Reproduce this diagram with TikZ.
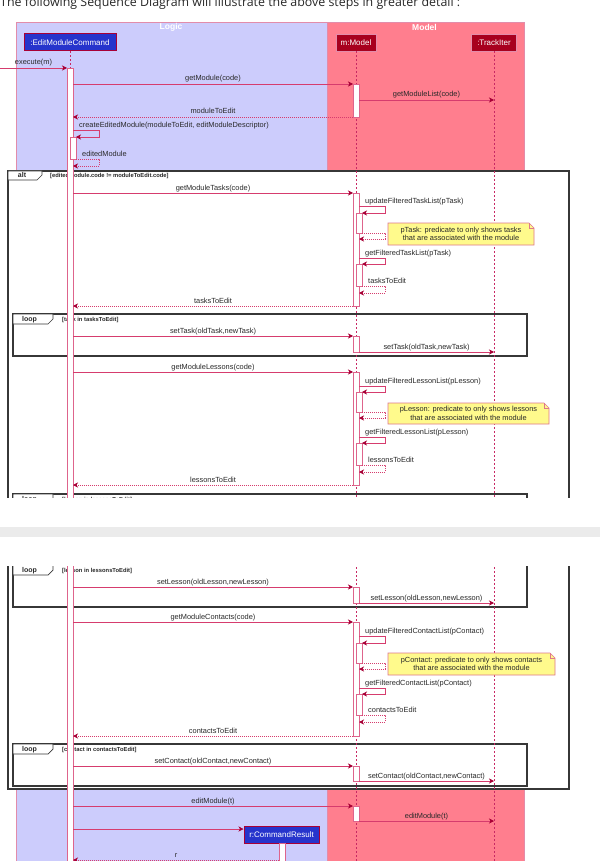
\documentclass[tikz,border=0pt]{standalone}
\usepackage{fontspec}
\setmainfont{Liberation Sans}
\newfontfamily\webfont{Open Sans}
\usetikzlibrary{arrows.meta,calc}
\definecolor{logicbg}{RGB}{204,204,252}
\definecolor{modelbg}{RGB}{255,126,142}
\definecolor{boxline}{RGB}{226,140,170}
\definecolor{linec}{RGB}{214,60,110}
\definecolor{headc}{RGB}{168,0,54}
\definecolor{actc}{RGB}{222,100,140}
\definecolor{lifec}{RGB}{200,40,100}
\definecolor{bluebox}{RGB}{38,52,204}
\definecolor{redbox}{RGB}{168,0,30}
\definecolor{framec}{RGB}{55,55,55}
\definecolor{notebg}{RGB}{255,250,140}
\definecolor{noteline}{RGB}{222,120,140}
\definecolor{textc}{RGB}{40,40,40}
\definecolor{bandc}{RGB}{235,235,235}
\tikzset{
 lbl/.style={font=\fontsize{7.4}{8}\selectfont, text=textc, inner sep=0pt},
 msg/.style={draw=linec, line width=0.6pt, -{Stealth[length=5pt,width=5pt,inset=1.5pt,color=headc]}},
 ret/.style={msg, dash pattern=on 1pt off 1pt},
 actbar/.style={draw=actc, fill=white, line width=0.6pt},
 lifeline/.style={draw=lifec, line width=0.7pt, dash pattern=on 2pt off 2pt},
 frm/.style={draw=framec, line width=1.3pt},
 tabbox/.style={draw=framec, line width=0.7pt, fill=white},
 grd/.style={font=\bfseries\fontsize{5.8}{6}\selectfont, text=textc, inner sep=0pt, anchor=base west},
 tablbl/.style={font=\bfseries\fontsize{7}{8}\selectfont, text=textc, inner sep=0pt, anchor=base},
 partb/.style={draw=headc, line width=1pt, text=white, font=\fontsize{8}{9}\selectfont, inner sep=0pt, minimum height=17pt},
 grouplbl/.style={font=\bfseries\fontsize{8.5}{9}\selectfont, text=white, inner sep=0pt},
 notepath/.style={draw=noteline, fill=notebg, line width=0.6pt},
 notetxt/.style={font=\fontsize{7.4}{8.6}\selectfont, text=textc, align=center, inner sep=0pt}
}
\newcommand\callmsg[5]{%
 \coordinate (#1s) at (#3,#2); \coordinate (#1e) at (#4,#2);
 \draw[msg] (#1s) -- (#1e);
 \node[lbl,anchor=base] (#1l) at ($(#1s)!.5!(#1e)+(0,-3)$) {#5};}
\newcommand\retmsg[5]{%
 \coordinate (#1s) at (#3,#2); \coordinate (#1e) at (#4,#2);
 \draw[ret] (#1s) -- (#1e);
 \node[lbl,anchor=base] (#1l) at ($(#1s)!.5!(#1e)+(0,-3)$) {#5};}
\newcommand\selfcall[7]{%
 \coordinate (#1a) at (#2,#5); \coordinate (#1b) at (#3,#5);
 \coordinate (#1c) at (#3,#6); \coordinate (#1d) at (#4,#6);
 \draw[msg] (#1a) -- (#1b) -- (#1c) -- (#1d);
 \node[lbl,anchor=base west] (#1l) at ($(#1a)+(6,-2.5)$) {#7};}
\newcommand\selfret[7]{%
 \coordinate (#1a) at (#2,#5); \coordinate (#1b) at (#3,#5);
 \coordinate (#1c) at (#3,#6); \coordinate (#1d) at (#4,#6);
 \draw[ret] (#1a) -- (#1b) -- (#1c) -- (#1d);
 \node[lbl,anchor=base west] (#1l) at ($(#1a)+(6,-2.5)$) {#7};}
\newcommand\looptab[3]{% name, top y, guard
 \draw[tabbox] (13,#2) -- (53,#2) -- (53,#2+5) -- (48,#2+10) -- (13,#2+10) -- cycle;
 \node[tablbl] (#1t) at (29.5,#2+7.5) {loop};
 \node[grd] (#1g) at (62,#2+7.3) {#3};}
\newcommand\notebox[6]{% name, x1, x2, y1, y2, text
 \draw[notepath] (#2,#4) -- (#3-5,#4) -- (#3,#4+5) -- (#3,#5) -- (#2,#5) -- cycle;
 \draw[draw=noteline, line width=0.6pt] (#3-5,#4) -- (#3-5,#4+5) -- (#3,#4+5);
 \node[notetxt] (#1) at ({(#2+#3)/2},{(#4+#5)/2}) {#6};}
\begin{document}
\begin{tikzpicture}[x=1pt,y=-1pt]
\clip (0,0) rectangle (600,861);
\fill[white] (0,0) rectangle (600,861);
\node[anchor=base west, inner sep=0pt, font=\webfont\fontsize{12.4}{14}\selectfont, text=textc] (intro) at (0,6.5) {The following Sequence Diagram will illustrate the above steps in greater detail :};
% groups
\draw[fill=logicbg, draw=boxline, line width=0.8pt] (16,22) rectangle (327,900);
\draw[fill=modelbg, draw=boxline, line width=0.8pt] (327,22) rectangle (524,900);
\node[grouplbl] (logic) at (171,27.5) {Logic};
\node[grouplbl] (model) at (424.5,27.5) {Model};
% participants
\node[partb, fill=bluebox, minimum width=92pt] (emc) at (70,42.5) {:EditModuleCommand};
\node[partb, fill=redbox, draw=boxline, line width=0.7pt, minimum width=40pt] (mm) at (356,42.5) {m:Model};
\node[partb, fill=redbox, draw=boxline, line width=0.7pt, minimum width=45pt] (ti) at (494,42.5) {:TrackIter};
% alt frame
\draw[frm, fill=white] (8,171) rectangle (569,789);
\draw[tabbox] (8,171) -- (42,171) -- (42,175) -- (37,180) -- (8,180) -- cycle;
\node[tablbl] (altt) at (22,177.5) {alt};
\node[grd] (altg) at (50,177.3) {[editedModule.code != moduleToEdit.code]};
% loop frames
\draw[frm] (13,314) rectangle (527,356);
\looptab{lpa}{314}{[task in tasksToEdit]}
\draw[frm] (13,494) rectangle (527,607);
\looptab{lpb}{494}{[lesson in lessonsToEdit]}
\looptab{lpc}{565}{[lesson in lessonsToEdit]}
\draw[frm] (13,744) rectangle (527,786);
\looptab{lpd}{744}{[contact in contactsToEdit]}
% lifelines
\draw[lifeline] (emc.south) -- (70,68);
\draw[lifeline] (mm.south) -- (356,900);
\draw[lifeline] (ti.south) -- (494,900);
% activations
\draw[actbar] (67,68) rectangle (73,900);
\draw[actbar] (70,137) rectangle (76,159);
\draw[actbar] (353,84) rectangle (359,117);
\draw[actbar] (353,193) rectangle (359,306);
\draw[actbar] (356,213) rectangle (362,233);
\draw[actbar] (356,264) rectangle (362,286);
\draw[actbar] (353,336) rectangle (359,352);
\draw[actbar] (353,372) rectangle (359,485);
\draw[actbar] (356,392) rectangle (362,412);
\draw[actbar] (356,443) rectangle (362,465);
\draw[actbar] (353,587) rectangle (359,603);
\draw[actbar] (353,622) rectangle (359,736);
\draw[actbar] (356,643) rectangle (362,663);
\draw[actbar] (356,694) rectangle (362,715);
\draw[actbar] (353,766) rectangle (359,781);
\draw[actbar] (353,806) rectangle (359,821);
% messages
\callmsg{ex}{68}{0}{67}{execute(m)}
\callmsg{gm}{84}{73}{353}{getModule(code)}
\callmsg{gml}{100}{359}{494}{getModuleList(code)}
\retmsg{mte}{117}{353}{73}{moduleToEdit}
\selfcall{cem}{73}{99}{76}{130}{137}{createEditedModule(moduleToEdit, editModuleDescriptor)}
\selfret{edm}{76}{99}{73}{159.5}{166}{editedModule}
\callmsg{gmt}{193}{73}{353}{getModuleTasks(code)}
\selfcall{uft}{359}{385}{362}{206}{213}{updateFilteredTaskList(pTask)}
\selfret{uftr}{362}{385}{359}{233}{239}{}
\selfcall{gft}{359}{385}{362}{258}{264}{getFilteredTaskList(pTask)}
\selfret{gftr}{362}{385}{359}{286}{293}{tasksToEdit}
\retmsg{tte}{306}{353}{73}{tasksToEdit}
\callmsg{sta}{336}{73}{353}{setTask(oldTask,newTask)}
\callmsg{stb}{352}{359}{494}{setTask(oldTask,newTask)}
\callmsg{gmls}{372}{73}{353}{getModuleLessons(code)}
\selfcall{ufl}{359}{385}{362}{386}{392}{updateFilteredLessonList(pLesson)}
\selfret{uflr}{362}{385}{359}{412}{418}{}
\selfcall{gfl}{359}{385}{362}{437}{443}{getFilteredLessonList(pLesson)}
\selfret{gflr}{362}{385}{359}{465}{472}{lessonsToEdit}
\retmsg{lte}{485}{353}{73}{lessonsToEdit}
\callmsg{sla}{587}{73}{353}{setLesson(oldLesson,newLesson)}
\callmsg{slb}{603}{359}{494}{setLesson(oldLesson,newLesson)}
\callmsg{gmc}{622}{73}{353}{getModuleContacts(code)}
\selfcall{ufc}{359}{385}{362}{636}{643}{updateFilteredContactList(pContact)}
\selfret{ufcr}{362}{385}{359}{663}{669}{}
\selfcall{gfc}{359}{385}{362}{688}{694}{getFilteredContactList(pContact)}
\selfret{gfcr}{362}{385}{359}{715}{722}{contactsToEdit}
\retmsg{cte}{736}{353}{73}{contactsToEdit}
\callmsg{sca}{766}{73}{353}{setContact(oldContact,newContact)}
\callmsg{scb}{781}{359}{494}{setContact(oldContact,newContact)}
\callmsg{ema}{806}{73}{353}{editModule(t)}
\callmsg{emb}{821}{359}{494}{editModule(t)}
% command result
\node[partb, fill=bluebox, minimum width=75pt] (cr) at (281.5,834.5) {r:CommandResult};
\coordinate (crs) at (73,829);
\draw[msg] (crs) -- (cr.west |- crs);
\draw[actbar] (279,843) rectangle (285,900);
\retmsg{rr}{860}{279}{73}{r}
% notes
\notebox{nt}{388}{534}{223}{245}{pTask: predicate to only shows tasks\\that are associated with the module}
\notebox{nl}{388}{549}{403}{424}{pLesson: predicate to only shows lessons\\that are associated with the module}
\notebox{nc}{388}{555}{653}{675}{pContact: predicate to only shows contacts\\that are associated with the module}
% page gap between the two screenshots
\fill[white] (0,497.5) rectangle (600,566);
\fill[bandc] (0,527) rectangle (600,537);
\end{tikzpicture}
\end{document}
